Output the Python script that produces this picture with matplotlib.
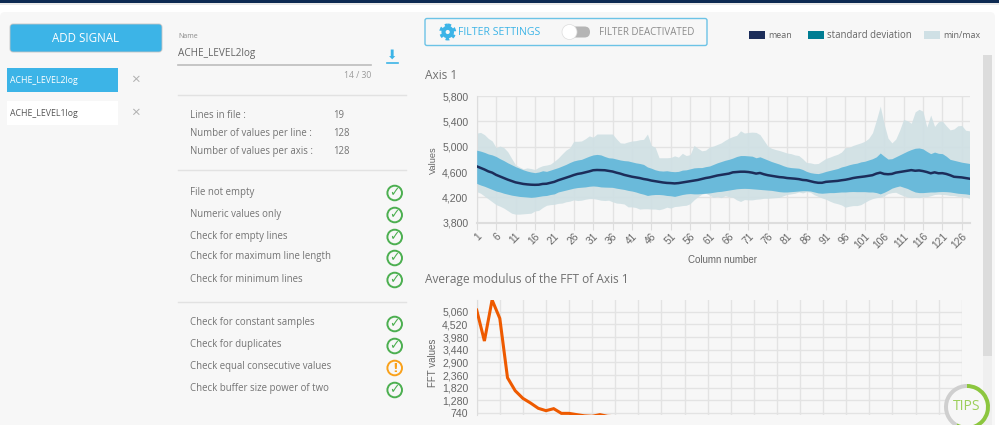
import matplotlib
matplotlib.use('Agg')
import matplotlib.pyplot as plt
from matplotlib.patches import Rectangle, FancyBboxPatch, Circle, Wedge

W, H = 999, 425

# data
mean_vals = [4690,4665,4640,4610,4590,4555,4530,4505,4480,4458,
             4437,4425,4412,4405,4400,4398,4400,4412,4415,4430,
             4445,4470,4490,4510,4530,4552,4570,4580,4595,4610,
             4628,4632,4630,4628,4618,4608,4590,4575,4555,4540,
             4526,4515,4505,4490,4480,4465,4455,4445,4435,4428,
             4425,4420,4425,4435,4445,4455,4465,4475,4490,4505,
             4515,4530,4545,4555,4565,4575,4595,4600,4605,4605,
             4600,4590,4575,4585,4565,4550,4540,4530,4520,4515,
             4505,4500,4495,4488,4475,4470,4455,4440,4430,4430,
             4445,4450,4455,4460,4470,4478,4490,4505,4515,4522,
             4530,4540,4550,4575,4590,4570,4565,4570,4590,4600,
             4610,4620,4630,4620,4625,4615,4600,4580,4595,4580,
             4582,4570,4550,4525,4520,4515,4505,4495]
std_upper = [4945,4930,4910,4885,4870,4845,4810,4780,4745,4715,
             4685,4660,4635,4615,4600,4590,4600,4620,4610,4630,
             4650,4670,4695,4720,4750,4775,4790,4800,4825,4850,
             4870,4878,4870,4845,4825,4820,4805,4790,4780,4775,
             4760,4745,4735,4720,4680,4660,4635,4620,4615,4620,
             4610,4605,4610,4630,4635,4650,4665,4670,4670,4685,
             4695,4720,4745,4765,4785,4800,4820,4845,4860,4860,
             4855,4850,4825,4840,4815,4790,4765,4745,4725,4700,
             4680,4670,4665,4660,4640,4610,4590,4580,4575,4590,
             4610,4625,4640,4655,4680,4695,4715,4730,4740,4760,
             4770,4790,4810,4840,4900,4850,4805,4810,4840,4870,
             4900,4930,4955,4975,4980,4965,4925,4890,4915,4895,
             4890,4850,4800,4785,4770,4755,4745,4735]
std_lower = [4420,4395,4375,4350,4325,4300,4285,4265,4250,4235,
             4225,4215,4210,4205,4200,4205,4215,4225,4230,4245,
             4255,4285,4300,4315,4330,4345,4355,4360,4365,4375,
             4380,4375,4365,4362,4360,4358,4345,4335,4325,4310,
             4300,4285,4265,4250,4230,4240,4245,4245,4240,4230,
             4225,4215,4230,4245,4255,4260,4255,4255,4260,4265,
             4270,4280,4290,4295,4305,4315,4325,4335,4340,4342,
             4340,4335,4330,4325,4320,4315,4310,4300,4290,4285,
             4285,4290,4295,4300,4305,4305,4300,4285,4270,4265,
             4270,4275,4275,4280,4285,4285,4290,4292,4290,4290,
             4290,4285,4285,4275,4255,4280,4310,4345,4365,4380,
             4360,4340,4310,4285,4275,4275,4280,4285,4285,4290,
             4292,4290,4285,4275,4265,4260,4255,4245]
min_vals = [4290,4265,4220,4175,4130,4085,4060,4030,3990,3950,
            3935,3935,3940,3945,3950,3985,3995,4040,4075,4085,
            4090,4105,4110,4130,4140,4160,4150,4155,4170,4180,
            4180,4170,4155,4150,4155,4130,4110,4105,4095,4050,
            4050,4040,4015,4020,4020,4015,4015,4005,4020,4045,
            4030,4055,4060,4070,4075,4100,4160,4210,4250,4265,
            4235,4200,4215,4195,4225,4210,4200,4160,4135,4165,
            4160,4160,4170,4175,4185,4185,4190,4195,4200,4225,
            4245,4255,4265,4285,4270,4290,4280,4240,4215,4190,
            4170,4140,4115,4100,4080,4045,4060,4070,4070,4085,
            4120,4155,4180,4195,4205,4225,4260,4275,4280,4250,
            4225,4205,4195,4200,4195,4210,4210,4225,4245,4250,
            4245,4240,4230,4230,4215,4215,4205,4185]
max_vals = [5215,5225,5190,5130,5090,4985,5010,4985,4920,4815,
            4715,4680,4650,4665,4655,4640,4675,4700,4710,4725,
            4770,4820,4885,4945,4985,5085,5085,5090,5125,5170,
            5150,5200,5200,5200,5200,5200,5125,5060,5055,5075,
            5090,5095,5110,5115,5200,5020,4990,4825,4825,4825,
            4830,4855,4835,4895,4860,4875,5020,4975,4935,4945,
            4995,5010,5035,5060,5100,5135,5160,5180,5250,5215,
            5225,5230,5225,5190,5100,5010,4975,4955,4940,4920,
            4900,4890,4870,4860,4810,4750,4745,4730,4735,4775,
            4815,4835,4860,4880,4915,4985,4990,5020,5040,5060,
            5085,5130,5220,5420,5640,5360,5135,5060,5120,5260,
            5430,5410,5370,5550,5590,5560,5310,5500,5320,5395,
            5405,5330,5265,5280,5330,5335,5260,5250]
columns = list(range(1, 129))
column_ticks = list(range(1, 127, 5))
value_ticks = [3800, 4200, 4600, 5000, 5400, 5800]

fft_vals = [5130,3810,5560,4775,2245,1690,1365,1165,940,840,925,725,725,670,620,600,670,600,580]
fft_ticks = [740, 1280, 1820, 2360, 2900, 3440, 3980, 4520, 5060]
fft_grid = list(range(0, 64, 3))

info_labels = ['Lines in file :', 'Number of values per line :', 'Number of values per axis :']
info_values = ['19', '128', '128']
checks_top = ['File not empty', 'Numeric values only', 'Check for empty lines',
              'Check for maximum line length', 'Check for minimum lines']
checks_bottom = ['Check for constant samples', 'Check for duplicates',
                 'Check equal consecutive values', 'Check buffer size power of two']

UI_FONT = 'Open Sans'
TICK_FONT = 'Liberation Sans'
BLUE = '#3cb4e7'
GREY_TXT = '#747474'
PANEL = '#f7f7f7'
GREEN = '#4caf50'
ORANGE = '#f9a11b'


def px_axes(left, top, right, bottom, **kw):
    return fig.add_axes([left / W, 1 - bottom / H, (right - left) / W, (bottom - top) / H], **kw)


def label(ax, x, y, s, size=6.9, color=GREY_TXT, ha='left', **kw):
    kw.setdefault('family', UI_FONT)
    ax.text(x, y, s, fontsize=size, color=color, ha=ha, va='center', **kw)


fig = plt.figure(figsize=(W / 100, H / 100), dpi=100, facecolor='white')

# ---- page background and the left side ----
ui = px_axes(0, 0, W, H, zorder=0)
ui.set_xlim(0, W)
ui.set_ylim(H, 0)
ui.axis('off')

ui.add_patch(FancyBboxPatch((0, 12), W - 4, H, boxstyle='round,pad=0,rounding_size=5',
                            fc=PANEL, ec='none'))
ui.add_patch(Rectangle((0, 0), W, 2.5, fc='#0d2a52', ec='none'))
ui.add_patch(Rectangle((0, 2.5), W, 2, fc='#e9e9e9', ec='none'))

ui.add_patch(FancyBboxPatch((10, 24), 152, 28, boxstyle='round,pad=0,rounding_size=3',
                            fc=BLUE, ec='#c4c4c4', lw=0.6))
label(ui, 86, 38, 'ADD SIGNAL', size=8.3, color='white', ha='center')

ui.add_patch(Rectangle((7, 68), 111, 24, fc=BLUE, ec='none'))
ui.add_patch(Rectangle((7, 101), 111, 24, fc='white', ec='none'))
label(ui, 10, 80, 'ACHE_LEVEL2log', size=6.3, color='white')
label(ui, 10, 113, 'ACHE_LEVEL1log', size=6.3, color='#555555')
for y in [80, 113]:
    label(ui, 135, y, '×', size=11, color='#b0b0b0', ha='center')

# name field
label(ui, 178, 36, 'Name', size=5, color='#8a8a8a')
label(ui, 178, 53, 'ACHE_LEVEL2log', size=7.2, color='#666666')
ui.plot([178, 371], [65, 65], color='#bdbdbd', lw=1.2)
label(ui, 371, 75, '14 / 30', size=6.2, color='#9a9a9a', ha='right')
label(ui, 392, 55, '⬇', size=9, color=BLUE, ha='center', family='DejaVu Sans')
ui.plot([387, 398], [62.5, 62.5], color=BLUE, lw=1.2)

for y in [94.5, 170, 302]:
    ui.plot([178, 406], [y, y], color='#e2e2e2', lw=1)

for y, name, val in zip([115, 133, 151], info_labels, info_values):
    label(ui, 190, y + 0.5, name)
    label(ui, 333, y + 0.5, val)


def check_row(y, name, warn=False):
    label(ui, 190, y, name)
    col = ORANGE if warn else GREEN
    ui.add_patch(Circle((394.7, y + 1), 7.3, fc='none', ec=col, lw=1.4))
    label(ui, 394.7, y + 1, '!' if warn else '✓', size=9, color=col, ha='center',
          family='DejaVu Sans', fontweight='bold' if warn else 'normal')


for y, name in zip([192, 214, 236, 257, 279], checks_top):
    check_row(y, name)
for y, name in zip([323, 345, 367, 389], checks_bottom):
    check_row(y, name, warn=name.startswith('Check equal'))

# ---- filter box and legend ----
ui.add_patch(FancyBboxPatch((425, 18.5), 282, 27, boxstyle='round,pad=0,rounding_size=2',
                            fc=PANEL, ec='#6cc3e6', lw=1))
# gear: thick ring plus dashed outer ring for the teeth
ui.add_patch(Circle((447.7, 32), 4.2, fc='none', ec=BLUE, lw=3))
ui.add_patch(Circle((447.7, 32), 6.8, fc='none', ec=BLUE, lw=2.4, ls=(0, (1, 1))))
label(ui, 458, 32, 'FILTER SETTINGS', size=7.6, color=BLUE)
ui.add_patch(FancyBboxPatch((565, 26.5), 25, 11, boxstyle='round,pad=0,rounding_size=5.5',
                            fc='#b5b5b5', ec='none'))
ui.add_patch(Circle((569.5, 32), 7.5, fc='white', ec='#dddddd', lw=0.5))
label(ui, 599, 32, 'FILTER DEACTIVATED', size=7, color='#8a8a8a')

legend_items = [(749, 'mean', '#1c2d5a', 6.4), (808, 'standard deviation', '#007d93', 6.9),
                (924, 'min/max', '#cfe0e5', 6.4)]
for x, name, col, fs in legend_items:
    ui.add_patch(Rectangle((x, 31), 16, 8, fc=col, ec='none'))
    label(ui, x + 19, 35, name, size=fs, color='#666666')

# scrollbar
ui.add_patch(Rectangle((983, 55), 9, 370, fc='#efefef', ec='none'))
ui.add_patch(Rectangle((983, 55), 9, 301, fc='#dcdcdc', ec='none'))

# chart titles
label(ui, 425, 75, 'Axis 1', size=8.6, color='#707070')
label(ui, 425, 280, 'Average modulus of the FFT of Axis 1', size=8.6, color='#707070')
label(ui, 433, 160, 'Values', size=6.6, color='#666666', ha='center', rotation=90, family=TICK_FONT)
label(ui, 723, 260, 'Column number', size=7, color='#666666', ha='center', family=TICK_FONT)
label(ui, 433, 363, 'FFT values', size=7, color='#666666', ha='center', rotation=90, family=TICK_FONT)

# ---- Axis 1 chart ----
ax1 = px_axes(476.7, 96, 969.5, 222.7, zorder=2, facecolor='none')
ax1.fill_between(columns, min_vals, max_vals, color='#cfe0e4', alpha=0.9, lw=0, zorder=2)
ax1.fill_between(columns, std_lower, std_upper, color='#6abada', lw=0, zorder=3)
ax1.plot(columns, mean_vals, color='#1c2d5a', lw=1.8, zorder=4)
ax1.set_xlim(1, 128)
ax1.set_ylim(3800, 5800)
ax1.set_xticks(column_ticks)
ax1.set_xticklabels([str(c) for c in column_ticks], rotation=45, ha='right',
                    rotation_mode='anchor', family=TICK_FONT)
ax1.set_yticks(value_ticks)
ax1.set_yticklabels([f'{v:,}' for v in value_ticks], family=TICK_FONT)
ax1.tick_params(axis='x', length=5, color='#dddddd', labelsize=7.4, labelcolor='#666666', pad=1)
ax1.tick_params(axis='y', length=0, labelsize=7.6, labelcolor='#666666', pad=6)
ax1.grid(True, color='#e3e3e3', lw=1, zorder=1)
ax1.set_axisbelow(True)
for side in ['top', 'right']:
    ax1.spines[side].set_visible(False)
ax1.spines['left'].set_color('#dddddd')
ax1.spines['bottom'].set_color('#dddddd')
ax1.spines['bottom'].set_linewidth(1.5)

# ---- FFT chart, cut off by the bottom of the screenshot ----
ax2 = px_axes(476.7, 300, 961.7, 415, zorder=2, facecolor='none')
ax2.plot(range(len(fft_vals)), fft_vals, color='#ee5a00', lw=2.2, zorder=4, solid_joinstyle='miter')
ax2.set_xlim(0, 63)
ax2.set_ylim(655, 5559)
ax2.set_xticks(fft_grid)
ax2.set_xticklabels([])
ax2.set_yticks(fft_ticks)
ax2.set_yticklabels([f'{v:,}' for v in fft_ticks], family=TICK_FONT)
ax2.tick_params(axis='x', length=0)
ax2.tick_params(axis='y', length=0, labelsize=7.6, labelcolor='#666666', pad=6)
ax2.grid(True, color='#e3e3e3', lw=1, zorder=1)
ax2.set_axisbelow(True)
for side in ['top', 'right', 'bottom']:
    ax2.spines[side].set_visible(False)
ax2.spines['left'].set_color('#dddddd')

# ---- tips badge on top of everything ----
top = px_axes(0, 0, W, H, zorder=5, facecolor='none')
top.set_xlim(0, W)
top.set_ylim(H, 0)
top.axis('off')
top.add_patch(Circle((967, 407), 22, fc=PANEL, ec='none'))
top.add_patch(Wedge((967, 407), 23, 120, 270, width=4, fc='#cfcfcf', ec='none'))
top.add_patch(Wedge((967, 407), 23, -90, 120, width=4, fc='#8cc63f', ec='none'))
label(top, 967, 407, 'TIPS', size=10, color='#9ccf5a', ha='center')

fig.savefig('out.png', dpi=100)
